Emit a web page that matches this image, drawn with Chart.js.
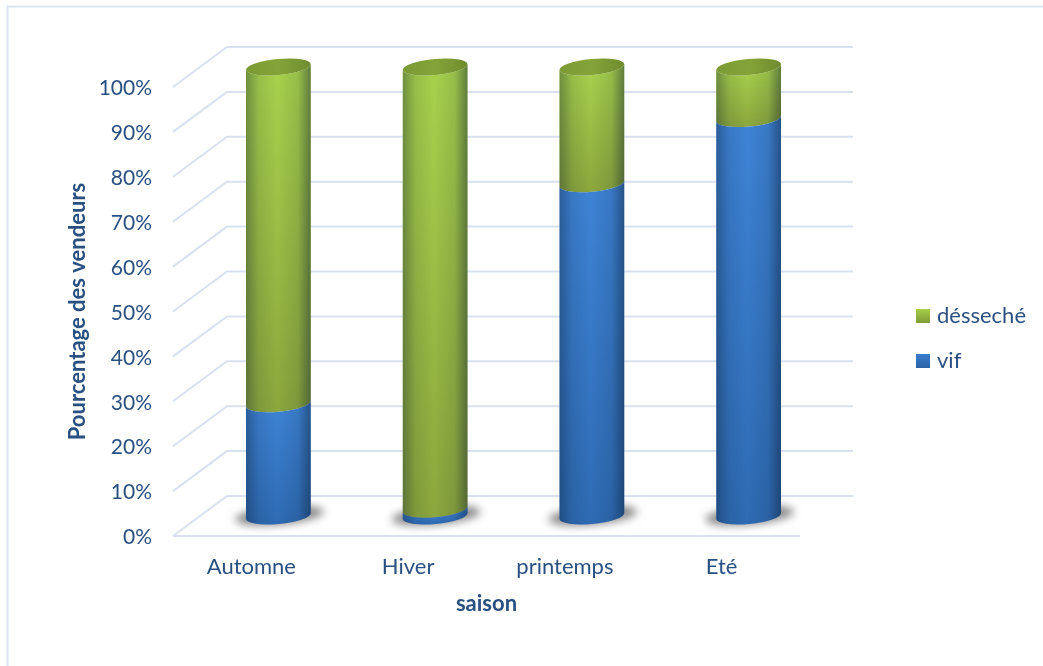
<!DOCTYPE html>
<html>
<head>
<meta charset="utf-8">
<script src="https://cdn.jsdelivr.net/npm/chart.js@4"></script>
<style>html,body{margin:0;padding:0;background:#fff}canvas{display:block}</style>
</head>
<body>
<canvas id="c" width="1043" height="666"></canvas>
<script>
const categories = ['Automne', 'Hiver', 'printemps', 'Eté'];
const vif = [25, 1.5, 74, 88.5];
const desseche = [75, 98.5, 26, 11.5];
const yTicks = [0, 10, 20, 30, 40, 50, 60, 70, 80, 90, 100];

const INK = '#2a5082', FONT = 'Lato', GRID = '#d9e1f0';
const DEPTH_X = 54, DEPTH_Y = -40, RY = 8, ROT = -0.09;

function segPath(ctx, c, rx, yt, yb) {
  ctx.beginPath();
  ctx.ellipse(c, yb, rx, RY, ROT, 0, Math.PI);
  ctx.ellipse(c, yt, rx, RY, ROT, Math.PI, 0, true);
  ctx.closePath();
}
function shadeX(ctx, c, rx) {
  const g = ctx.createLinearGradient(c - rx, 0, c + rx, 0);
  g.addColorStop(0, 'rgba(10,25,45,.36)');
  g.addColorStop(.2, 'rgba(10,25,45,.10)');
  g.addColorStop(.48, 'rgba(10,25,45,0)');
  g.addColorStop(.8, 'rgba(10,25,45,.11)');
  g.addColorStop(1, 'rgba(10,25,45,.46)');
  return g;
}
const SEG = {
  '#3b80d2': ['#3e84d6', '#2e6bb3'],
  '#a6cf4a': ['#a8d24c', '#8ca73d']
};
Chart.BarElement.prototype.draw = function (ctx) {
  const { x, y, base, width } = this.getProps(['x', 'y', 'base', 'width'], true);
  const col = this.options.backgroundColor;
  const c = x + DEPTH_X / 2, rx = width / 2;
  const yt = y + DEPTH_Y / 2, yb = base + DEPTH_Y / 2;
  const stops = SEG[col];
  const v = ctx.createLinearGradient(0, yt, 0, yb + RY);
  v.addColorStop(0, stops[0]);
  v.addColorStop(1, stops[1]);
  ctx.save();
  segPath(ctx, c, rx, yt, yb);
  ctx.fillStyle = v;
  ctx.fill();
  ctx.fillStyle = shadeX(ctx, c, rx);
  ctx.fill();
  ctx.restore();
};

const scene = {
  id: 'scene',
  afterLayout(chart) {
    const l = chart.legend;
    l.left = 897; l.right = 1043; l.width = 146;
    l.top = 0; l.bottom = 677; l.height = 677;
  },
  beforeDraw(chart) {
    const ctx = chart.ctx, ys = chart.scales.y;
    const left = chart.chartArea.left, right = chart.chartArea.right;
    ctx.save();
    ctx.fillStyle = '#fff';
    ctx.fillRect(0, 0, chart.width, chart.height);
    ctx.strokeStyle = '#dce6f3';
    ctx.lineWidth = 2;
    ctx.beginPath();
    ctx.moveTo(7.5, chart.height);
    ctx.lineTo(7.5, 6.5);
    ctx.lineTo(chart.width, 6.5);
    ctx.stroke();
    ctx.strokeStyle = GRID;
    ctx.lineWidth = 2;
    yTicks.forEach(t => {
      const p = ys.getPixelForValue(t);
      ctx.beginPath();
      ctx.moveTo(left, p);
      ctx.lineTo(left + DEPTH_X, p + DEPTH_Y);
      ctx.lineTo(right + DEPTH_X - 1, p + DEPTH_Y);
      ctx.stroke();
    });
    const p0 = ys.getPixelForValue(0);
    ctx.beginPath();
    ctx.moveTo(left, p0);
    ctx.lineTo(right, p0);
    ctx.stroke();
    ctx.restore();
  },
  beforeDatasetsDraw(chart) {
    const ctx = chart.ctx;
    chart.getDatasetMeta(0).data.forEach(bar => {
      const c = bar.x + DEPTH_X / 2, yb = bar.base + DEPTH_Y / 2;
      ctx.save();
      ctx.filter = 'blur(4px)';
      ctx.fillStyle = 'rgba(80,80,80,.68)';
      ctx.beginPath();
      ctx.ellipse(c + 1, yb - 0.5, bar.width / 2 + 12, 9, ROT, 0, Math.PI * 2);
      ctx.fill();
      ctx.restore();
    });
  },
  afterDatasetsDraw(chart) {
    const ctx = chart.ctx;
    chart.getDatasetMeta(1).data.forEach(bar => {
      const c = bar.x + DEPTH_X / 2, yt = bar.y + DEPTH_Y / 2, rx = bar.width / 2;
      const g = ctx.createLinearGradient(c - rx, 0, c + rx, 0);
      g.addColorStop(0, '#7b9a35');
      g.addColorStop(.5, '#84a439');
      g.addColorStop(1, '#6f8c2e');
      ctx.save();
      ctx.fillStyle = g;
      ctx.beginPath();
      ctx.ellipse(c, yt, rx, RY, ROT, 0, Math.PI * 2);
      ctx.fill();
      ctx.restore();
    });
  }
};

function swatch(a, b) {
  const cv = document.createElement('canvas');
  cv.width = 14; cv.height = 14;
  const x = cv.getContext('2d');
  const g = x.createLinearGradient(0, 0, 0, 14);
  g.addColorStop(0, a);
  g.addColorStop(1, b);
  x.fillStyle = g;
  x.fillRect(0, 0, 14, 14);
  return cv;
}
const swatches = { 'vif': swatch('#3a7dcc', '#2b62a6'), 'désseché': swatch('#a6cf4a', '#7f9c37') };

new Chart(document.getElementById('c').getContext('2d'), {
  type: 'bar',
  plugins: [scene],
  data: {
    labels: categories,
    datasets: [
      { label: 'vif', data: vif, backgroundColor: '#3b80d2', barThickness: 65, clip: false },
      { label: 'désseché', data: desseche, backgroundColor: '#a6cf4a', barThickness: 65, clip: false }
    ]
  },
  options: {
    responsive: false,
    animation: false,
    devicePixelRatio: 1,
    layout: { autoPadding: false, padding: { top: 87, left: 0, right: 243, bottom: 0 } },
    plugins: {
      tooltip: { enabled: false },
      legend: {
        position: 'chartArea',
        align: 'center',
        reverse: true,
        labels: {
          usePointStyle: true,
          pointStyleWidth: 6,
          boxHeight: 14,
          padding: 23,
          color: INK,
          font: { family: FONT, size: 22 },
          generateLabels(chart) {
            const items = Chart.defaults.plugins.legend.labels.generateLabels(chart);
            items.forEach(it => { it.pointStyle = swatches[it.text]; it.lineWidth = 0; });
            return items;
          }
        }
      }
    },
    scales: {
      x: {
        stacked: true,
        grid: { display: false },
        border: { display: false },
        afterFit(s) { s.height = 130; },
        ticks: { color: INK, font: { family: FONT, size: 22 }, padding: 10, maxRotation: 0 },
        title: { display: true, text: 'saison', color: INK, font: { family: FONT, size: 22, weight: 'bold' }, padding: { top: 0, bottom: 49 } }
      },
      y: {
        stacked: true,
        min: 0,
        max: 100,
        afterFit(s) { s.width = 173; },
        afterBuildTicks(s) { s.ticks = yTicks.map(v => ({ value: v })); },
        grid: { display: false },
        border: { display: false },
        ticks: { color: INK, font: { family: FONT, size: 21 }, padding: 13, labelOffset: 1.5, callback: v => v + '%' },
        title: { display: true, text: 'Pourcentage des vendeurs', color: INK, font: { family: FONT, size: 22, weight: 'bold' }, padding: { top: 65, bottom: 0 } }
      }
    }
  }
});
</script>
</body>
</html>
